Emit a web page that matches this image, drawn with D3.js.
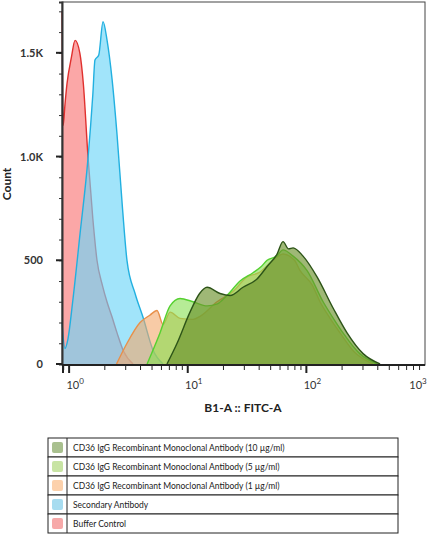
<!DOCTYPE html><html><head><meta charset="utf-8"><script src="https://cdn.jsdelivr.net/npm/d3@7"></script>
<style>body{margin:0;background:#fff;font-family:Lato,sans-serif}</style></head><body><svg id="c" width="429" height="540"></svg>
<script>
// log10(fluorescence) and counts for each histogram
const bufferLog=[-0.06,-0.05,-0.035,-0.018,0.02,0.05,0.09,0.12,0.159,0.2,0.235,0.28,0.319,0.36,0.404,0.46,0.539];
const bufferCnt=[1700,1150,1250,1350,1480,1560,1500,1350,1000,700,500,380,300,230,150,60,0];
const secLog=[-0.06,-0.035,-0.01,0.03,0.092,0.159,0.2,0.218,0.25,0.286,0.32,0.362,0.404,0.45,0.488,0.556,0.623,0.707,0.792];
const secCnt=[200,75,120,300,627,990,1300,1465,1490,1650,1560,1373,1105,750,498,340,225,67,0];
const c1Log=[0.4,0.488,0.598,0.68,0.741,0.792,0.851,0.935,1.045,1.104,1.247,1.382,1.5,1.6,1.72,1.803,1.9,1.947,2.05,2.115,2.2,2.284,2.4,2.562];
const c1Cnt=[0,100,200,235,258,190,250,220,215,230,300,350,420,440,500,530,500,450,380,300,220,150,60,0];
const c5Log=[0.657,0.766,0.851,0.935,1.045,1.163,1.25,1.331,1.441,1.55,1.62,1.669,1.75,1.803,1.888,2.006,2.141,2.25,2.309,2.45,2.596];
const c5Cnt=[0,150,280,316,300,280,290,330,400,440,470,500,520,550,520,450,300,200,150,50,0];
const c10Log=[0.825,0.91,1.019,1.1,1.163,1.272,1.357,1.466,1.584,1.669,1.753,1.803,1.85,1.888,1.972,2.09,2.225,2.343,2.478,2.621];
const c10Cnt=[0,100,250,340,370,340,330,370,410,470,530,590,555,560,520,420,270,150,50,0];
const yTicks=[0,500,1000,1500];
const yTickLabels=["0","500","1.0K","1.5K"];
const xDecades=[0,1,2,3];
const seriesNames=["CD36 IgG Recombinant Monoclonal Antibody (10 µg/ml)","CD36 IgG Recombinant Monoclonal Antibody (5 µg/ml)","CD36 IgG Recombinant Monoclonal Antibody (1 µg/ml)","Secondary Antibody","Buffer Control"];
const swatch=["#a9c08f","#c8e4a4","#fcd1ac","#a7dcf0","#f7a9a9"];

const svg=d3.select("#c");
const L=62,R=425,T=2,B=365;
const x=d3.scaleLog().domain([0.871,1000]).range([L,R]);
const y=d3.scaleLinear().domain([0,1745]).range([B-1,T]);
const mk=(lx,cn)=>lx.map((v,i)=>[Math.pow(10,v),cn[i]]);
const area=d3.area().x(d=>x(d[0])).y0(y(0)).y1(d=>y(d[1])).curve(d3.curveMonotoneX);
const line=d3.line().x(d=>x(d[0])).y(d=>y(d[1])).curve(d3.curveMonotoneX);
const series=[
 [mk(bufferLog,bufferCnt),"#f98a8a","#e0302e",0.75],
 [mk(secLog,secCnt),"#6fd6f8","#22b0e0",0.65],
 [mk(c1Log,c1Cnt),"#f3a86a","#e8904a",0.6],
 [mk(c5Log,c5Cnt),"#86e050","#55d030",0.6],
 [mk(c10Log,c10Cnt),"#6b922c","#2d5418",0.65]];
const g=svg.append("g");
series.forEach(s=>{
 g.append("path").datum(s[0]).attr("d",area).attr("fill",s[1]).attr("fill-opacity",s[3]);
 g.append("path").datum(s[0]).attr("d",line).attr("fill","none").attr("stroke",s[2]).attr("stroke-width",1.4);
});
svg.append("rect").attr("x",L).attr("y",T).attr("width",R-L).attr("height",B-T).attr("fill","none").attr("stroke","#444").attr("stroke-width",1);
// y axis
const ya=svg.append("g").attr("transform",`translate(${L},0)`).call(d3.axisLeft(y).tickValues(d3.range(0,1800,100)).tickSize(3).tickFormat(""));
ya.selectAll("line").attr("stroke","#333");ya.select(".domain").attr("stroke","#333").attr("stroke-width",2);
yTicks.forEach((v,i)=>{svg.append("line").attr("x1",L-6).attr("x2",L).attr("y1",y(v)).attr("y2",y(v)).attr("stroke","#222").attr("stroke-width",2);
 svg.append("text").attr("x",L-19).attr("y",y(v)+4).attr("text-anchor","end").attr("font-size",11).attr("font-weight","bold").attr("fill","#333").text(yTickLabels[i]);});
// x axis
const minor=[];for(let d=-1;d<3;d++)for(let k=1;k<10;k++){const v=k*Math.pow(10,d);if(v>=0.871&&v<=1000)minor.push(v);}
minor.forEach(v=>{const maj=Number.isInteger(Math.log10(v))&&Math.abs(Math.log10(v)%1)<1e-9;
 svg.append("line").attr("x1",x(v)).attr("x2",x(v)).attr("y1",B).attr("y2",B+(maj?8:5)).attr("stroke","#222").attr("stroke-width",maj?2:1);});
svg.append("line").attr("x1",L).attr("x2",R).attr("y1",B).attr("y2",B).attr("stroke","#222").attr("stroke-width",2);
svg.append("line").attr("x1",L+1).attr("x2",L+1).attr("y1",B).attr("y2",B+8).attr("stroke","#222").attr("stroke-width",2);
xDecades.forEach(d=>{const t=svg.append("text").attr("x",x(Math.pow(10,d))+(d==3?-7:6)).attr("y",B+24).attr("text-anchor","middle").attr("font-size",11).attr("fill","#333");
 t.append("tspan").text("10");t.append("tspan").attr("dy",-5).attr("font-size",8).text(d);});
svg.append("text").attr("transform","translate(11,184) rotate(-90)").attr("text-anchor","middle").attr("font-size",12).attr("font-weight","bold").attr("fill","#222").text("Count");
svg.append("text").attr("x",243).attr("y",412).attr("text-anchor","middle").attr("font-size",12).attr("font-weight","bold").attr("fill","#222").text("B1-A :: FITC-A");
// legend
const lx=48,ly=438,rh=19,lw=350;
seriesNames.forEach((n,i)=>{const yy=ly+i*rh;
 svg.append("rect").attr("x",lx).attr("y",yy).attr("width",lw).attr("height",rh).attr("fill","#fff").attr("stroke","#222").attr("stroke-width",1);
 svg.append("line").attr("x1",lx+19).attr("x2",lx+19).attr("y1",yy).attr("y2",yy+rh).attr("stroke","#222");
 svg.append("rect").attr("x",lx+4).attr("y",yy+4).attr("width",11).attr("height",11).attr("rx",2).attr("fill",swatch[i]);
 svg.append("text").attr("x",lx+25).attr("y",yy+13).attr("font-size",8.5).attr("fill","#222").text(n);});
</script></body></html>
